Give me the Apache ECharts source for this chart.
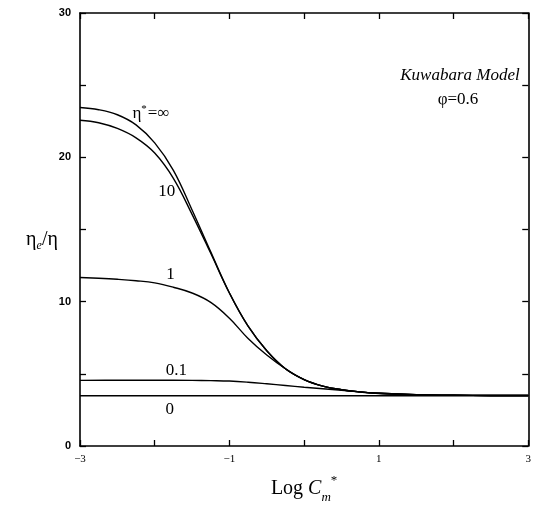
<!DOCTYPE html>
<html>
<head>
<meta charset="utf-8">
<script src="https://cdn.jsdelivr.net/npm/echarts@6/dist/echarts.min.js"></script>
<style>html,body{margin:0;padding:0;background:#fff}#c{width:534px;height:509px}</style>
</head>
<body>
<div id="c"></div>
<script>
// Data: x = Log Cm*, y = eta_e/eta
var xInf = [-3, -2.75, -2.5, -2.25, -2.0, -1.75, -1.5, -1.25, -1.0, -0.75, -0.5, -0.25, 0, 0.25, 0.5, 0.75, 1.0, 1.5, 2.0, 2.5, 3.0];
var yInf = [23.45, 23.3, 22.95, 22.25, 21.0, 19.1, 16.35, 13.45, 10.6, 8.3, 6.6, 5.35, 4.6, 4.15, 3.9, 3.75, 3.65, 3.55, 3.52, 3.5, 3.5];

var x10 = [-3, -2.75, -2.5, -2.25, -2.0, -1.75, -1.5, -1.25, -1.0, -0.75, -0.5, -0.25, 0, 0.25, 0.5, 0.75, 1.0, 1.5, 2.0, 2.5, 3.0];
var y10 = [22.57, 22.4, 22.0, 21.35, 20.3, 18.55, 16.05, 13.35, 10.6, 8.3, 6.6, 5.35, 4.6, 4.15, 3.9, 3.75, 3.65, 3.55, 3.52, 3.5, 3.5];

var x1 = [-3, -2.75, -2.5, -2.25, -2.0, -1.75, -1.5, -1.25, -1.0, -0.75, -0.5, -0.25, 0, 0.25, 0.5, 0.75, 1.0, 1.5, 2.0, 2.5, 3.0];
var y1 = [11.67, 11.62, 11.55, 11.45, 11.3, 11.0, 10.6, 9.95, 8.85, 7.45, 6.3, 5.35, 4.6, 4.15, 3.9, 3.75, 3.65, 3.55, 3.52, 3.5, 3.5];

var x01 = [-3, -2.5, -2.0, -1.5, -1.25, -1.0, -0.75, -0.5, -0.25, 0, 0.25, 0.5, 0.75, 1.0, 1.5, 2.0, 2.5, 3.0];
var y01 = [4.55, 4.56, 4.56, 4.55, 4.53, 4.5, 4.42, 4.31, 4.19, 4.07, 3.97, 3.86, 3.74, 3.64, 3.54, 3.52, 3.5, 3.5];

var x0 = [-3, 3];
var y0 = [3.48, 3.48];

var xTicks = [-3, -1, 1, 3];
var yTicks = [0, 10, 20, 30];

function pairs(xs, ys) { return xs.map(function (x, i) { return [x, ys[i]]; }); }

var chart = echarts.init(document.getElementById('c'), null, {renderer: 'canvas'});
var serif = '"Liberation Serif", "DejaVu Serif", serif';
var lineStyle = {color: '#000', width: 1.4};

function mkSeries(name, xs, ys) {
  return {
    name: name, type: 'line', data: pairs(xs, ys), smooth: 0.4,
    symbol: 'none', lineStyle: lineStyle, silent: true, animation: false
  };
}

var axisLine = {show: true, onZero: false, lineStyle: {color: '#000', width: 1.6}};
var tickIn = {show: true, inside: true, length: 6, lineStyle: {color: '#000', width: 1.3}};

chart.setOption({
  animation: false,
  backgroundColor: '#fff',
  grid: {left: 80, right: 4, top: 13, bottom: 48},
  xAxis: [{
    type: 'value', min: -3, max: 3, interval: 1, position: 'bottom',
    axisLine: axisLine, axisTick: tickIn, splitLine: {show: false},
    axisLabel: {
      color: '#000', fontFamily: serif, fontSize: 11, margin: 8,
      formatter: function (v) { return xTicks.indexOf(v) >= 0 ? (v < 0 ? '\u2212' + Math.abs(v) : String(v)) : ''; }
    },
    name: '{n|Log }{i|C}{sub|m}{sup|*}', nameLocation: 'middle', nameGap: 30,
    nameTextStyle: {
      rich: {
        n: {fontFamily: serif, fontSize: 20, color: '#000', lineHeight: 26, verticalAlign: 'middle'},
        i: {fontFamily: serif, fontSize: 20, fontStyle: 'italic', color: '#000', lineHeight: 26, verticalAlign: 'middle'},
        sub: {fontFamily: serif, fontSize: 13, fontStyle: 'italic', color: '#000', lineHeight: 12, verticalAlign: 'bottom', padding: [0, 0, -2, 0]},
        sup: {fontFamily: serif, fontSize: 13, color: '#000', lineHeight: 12, verticalAlign: 'top', padding: [-2, 0, 0, 0]}
      }
    }
  }, {
    type: 'value', min: -3, max: 3, interval: 1, position: 'top',
    axisLine: axisLine, axisTick: tickIn, axisLabel: {show: false}, splitLine: {show: false}
  }],
  yAxis: [{
    type: 'value', min: 0, max: 30, interval: 5, position: 'left',
    axisLine: axisLine, axisTick: tickIn, splitLine: {show: false},
    axisLabel: {
      color: '#000', fontFamily: '"Liberation Sans", Arial, sans-serif', fontWeight: 'bold', fontSize: 11, margin: 9,
      formatter: function (v) { return yTicks.indexOf(v) >= 0 ? String(v) : ''; }
    }
  }, {
    type: 'value', min: 0, max: 30, interval: 5, position: 'right',
    axisLine: axisLine, axisTick: tickIn, axisLabel: {show: false}, splitLine: {show: false}
  }],
  series: [
    mkSeries('inf', xInf, yInf),
    mkSeries('10', x10, y10),
    mkSeries('1', x1, y1),
    mkSeries('0.1', x01, y01),
    mkSeries('0', x0, y0)
  ]
});

// Annotation anchors (data coordinates)
var notes = [
  {at: [-2.05, 23.05], text: '{a|\u03b7}{s|*}{a|=\u221e}'},
  {at: [-1.84, 17.6], text: '{a|10}'},
  {at: [-1.79, 11.9], text: '{a|1}'},
  {at: [-1.71, 5.2], text: '{a|0.1}'},
  {at: [-1.8, 2.55], text: '{a|0}'}
];
var richLbl = {
  a: {fontFamily: serif, fontSize: 17, color: '#000', lineHeight: 20, verticalAlign: 'middle'},
  s: {fontFamily: serif, fontSize: 11, color: '#000', lineHeight: 20, verticalAlign: 'top', padding: [0, 1, 0, 0]}
};
var graphics = notes.map(function (n) {
  var p = chart.convertToPixel({xAxisIndex: 0, yAxisIndex: 0}, n.at);
  return {type: 'text', x: p[0], y: p[1], silent: true,
    style: {text: n.text, rich: richLbl, align: 'center', verticalAlign: 'middle'}};
});
graphics.push({type: 'text', x: 460, y: 76, silent: true,
  style: {text: 'Kuwabara Model', font: 'italic 17px ' + serif, fill: '#000', align: 'center', verticalAlign: 'middle'}});
graphics.push({type: 'text', x: 458, y: 100, silent: true,
  style: {text: '\u03c6=0.6', font: '17px ' + serif, fill: '#000', align: 'center', verticalAlign: 'middle'}});
graphics.push({type: 'text', x: 42, y: 240, silent: true,
  style: {text: '{a|\u03b7}{e|e}{a|/\u03b7}', align: 'center', verticalAlign: 'middle',
    rich: {
      a: {fontFamily: serif, fontSize: 20, color: '#000', lineHeight: 24, verticalAlign: 'middle'},
      e: {fontFamily: serif, fontSize: 12, fontStyle: 'italic', color: '#000', lineHeight: 14, verticalAlign: 'bottom'}
    }}});
chart.setOption({graphic: graphics});
</script>
</body>
</html>
